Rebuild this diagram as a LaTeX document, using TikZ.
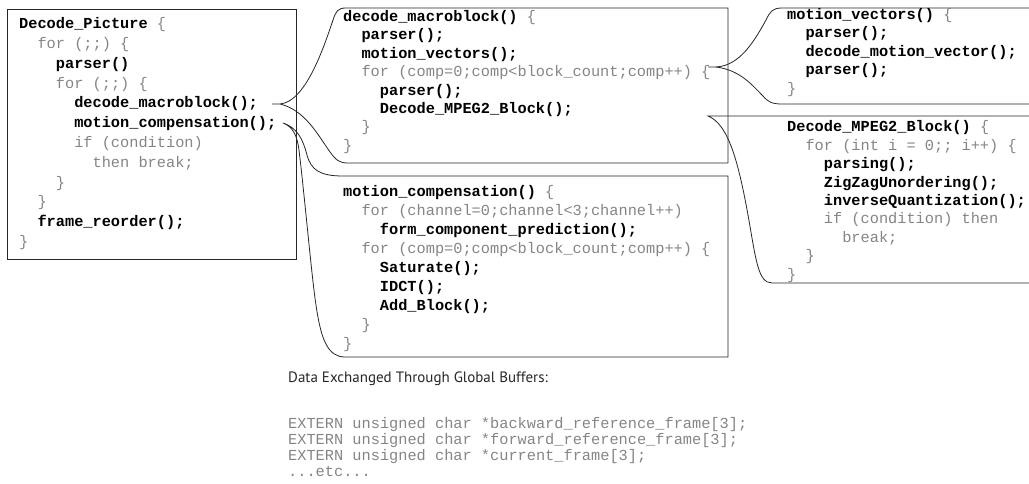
\documentclass[tikz,border=0pt]{standalone}
\usepackage{fontspec}
\setmonofont{Liberation Mono}
\setsansfont{PT Sans}
\usepackage{tikz}
\usetikzlibrary{positioning}

\definecolor{codegray}{gray}{0.52}
\newcommand{\tb}{\hspace*{1.2em}}
\newcommand{\fn}[1]{\textbf{\color{black}#1}}

\tikzset{
  code/.style={font=\ttfamily\frenchspacing\fontsize{15.3}{18.4}\selectfont, text=codegray, align=left, inner sep=0pt, anchor=base west},
  outline/.style={draw=black!85, line width=0.8pt},
}

\begin{document}
\begin{tikzpicture}[x=1pt, y=-1pt]
\useasboundingbox (0,0) rectangle (1029,484);

% caller (nodes sit on the baseline of their last line)
\draw[outline] (7,9) rectangle (296,259);
\node[code, font=\ttfamily\frenchspacing\fontsize{15.3}{19.8}\selectfont] (dpic) at (19,246.5) {%
\fn{Decode\_Picture} \{\\
\tb for (;;) \{\\
\tb\tb\fn{parser()}\\
\tb\tb for (;;) \{\\
\tb\tb\tb\fn{decode\_macroblock();}\\
\tb\tb\tb\fn{motion\_compensation();}\\
\tb\tb\tb if (condition)\\
\tb\tb\tb\tb then break;\\
\tb\tb\}\\
\tb\}\\
\tb\fn{frame\_reorder();}\\
\}};

\coordinate (mbtip) at (272,104);
\coordinate (mctip) at (283,123);
\coordinate (mvtip) at (708,67);
\coordinate (dbtip) at (708,116);

% decode_macroblock callout
\draw[outline] (mbtip) -- (280,104) .. controls (305,102) and (323,50) .. (333,20)
  .. controls (336,11) and (338,8) .. (346,8) -- (728,8) -- (728,163) -- (348,163)
  .. controls (339,163) and (336,160) .. (330,152)
  .. controls (318,135) and (305,110) .. (280,104);
\node[code] (dmb) at (343,150.3) {%
\fn{decode\_macroblock()} \{\\
\tb\fn{parser();}\\
\tb\fn{motion\_vectors();}\\
\tb for (comp=0;comp<block\_count;comp++) \{\\
\tb\tb\fn{parser();}\\
\tb\tb\fn{Decode\_MPEG2\_Block();}\\
\tb\}\\
\}};

% motion_compensation callout
\draw[outline] (mctip) .. controls (298,128) and (303,140) .. (307,155)
  .. controls (311,170) and (320,176) .. (343,176) -- (728,176) -- (728,357) -- (345,357)
  .. controls (328,357) and (321,340) .. (316,305)
  .. controls (312,280) and (305,200) .. (299,150)
  .. controls (297,135) and (293,127) .. (mctip);
\node[code, font=\ttfamily\frenchspacing\fontsize{15.3}{19}\selectfont] (mcomp) at (343,348.5) {%
\fn{motion\_compensation()} \{\\
\tb for (channel=0;channel<3;channel++)\\
\tb\tb\fn{form\_component\_prediction();}\\
\tb for (comp=0;comp<block\_count;comp++) \{\\
\tb\tb\fn{Saturate();}\\
\tb\tb\fn{IDCT();}\\
\tb\tb\fn{Add\_Block();}\\
\tb\}\\
\}};

% motion_vectors callout
\draw[outline] (1035,8) -- (782,8) .. controls (772,8) and (770,12) .. (766,20)
  .. controls (755,40) and (740,66) .. (716,67) -- (mvtip);
\draw[outline] (716,67) .. controls (740,70) and (752,85) .. (763,96)
  .. controls (768,102) and (772,104) .. (782,104) -- (1035,104);
\node[code] (mvec) at (787,93.1) {%
\fn{motion\_vectors()} \{\\
\tb\fn{parser();}\\
\tb\fn{decode\_motion\_vector();}\\
\tb\fn{parser();}\\
\}};

% Decode_MPEG2_Block callout
\draw[outline] (1035,116) -- (dbtip) .. controls (728,124) and (738,160) .. (748,215)
  .. controls (756,260) and (758,283) .. (772,283) -- (1035,283);
\node[code, font=\ttfamily\frenchspacing\fontsize{15.3}{18.5}\selectfont] (dblk) at (787,279.5) {%
\fn{Decode\_MPEG2\_Block()} \{\\
\tb for (int i = 0;; i++) \{\\
\tb\tb\fn{parsing();}\\
\tb\tb\fn{ZigZagUnordering();}\\
\tb\tb\fn{inverseQuantization();}\\
\tb\tb if (condition) then\\
\tb\tb\tb break;\\
\tb\}\\
\}};

% shared buffers
\node[font=\sffamily\fontsize{15}{18}\selectfont, text=black!85, inner sep=0pt, anchor=base west] (buftitle) at (288,382) {Data Exchanged Through Global Buffers:};
\node[code, font=\ttfamily\frenchspacing\fontsize{15.3}{16}\selectfont] (bufcode) at (288,476.5) {%
EXTERN unsigned char *backward\_reference\_frame[3];\\
EXTERN unsigned char *forward\_reference\_frame[3];\\
EXTERN unsigned char *current\_frame[3];\\
...etc...};
\end{tikzpicture}
\end{document}
